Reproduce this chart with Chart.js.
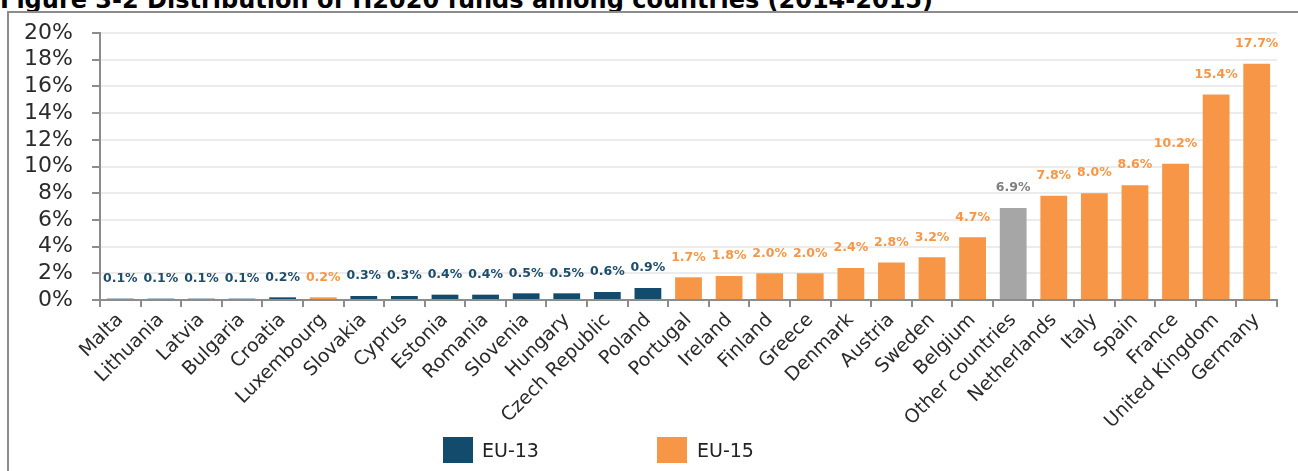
<!DOCTYPE html>
<html>
<head>
<meta charset="utf-8">
<script src="https://cdn.jsdelivr.net/npm/chart.js@4"></script>
<style>
  body { margin: 0; width: 1298px; height: 471px; overflow: hidden; background: #fff; position: relative; font-family: "DejaVu Sans", sans-serif; }
  #title { position: absolute; left: 0; top: -14px; font: bold 24px "DejaVu Sans"; line-height: 28px; white-space: nowrap; color: #000; }
  #frame { position: absolute; left: 7px; top: 11px; width: 1400px; height: 600px; border: 2px solid #8c8c8c; }
  #chart { position: absolute; left: 0; top: 0; }
  .sw { position: absolute; top: 437px; width: 30px; height: 26px; }
  .lt { position: absolute; top: 438px; font-size: 19px; line-height: 24px; color: #222; }
</style>
</head>
<body>
<div id="title">Figure 3-2 Distribution of H2020 funds among countries (2014-2015)</div>
<div id="frame"></div>
<canvas id="chart" width="1298" height="471"></canvas>
<div class="sw" style="left:443px;background:#124b6c"></div>
<div class="lt" style="left:482px">EU-13</div>
<div class="sw" style="left:657px;background:#f79646"></div>
<div class="lt" style="left:697px">EU-15</div>
<script>
const countries = ["Malta", "Lithuania", "Latvia", "Bulgaria", "Croatia", "Luxembourg", "Slovakia", "Cyprus",
  "Estonia", "Romania", "Slovenia", "Hungary", "Czech Republic", "Poland", "Portugal", "Ireland", "Finland",
  "Greece", "Denmark", "Austria", "Sweden", "Belgium", "Other countries", "Netherlands", "Italy", "Spain",
  "France", "United Kingdom", "Germany"];
const shares = [0.1, 0.1, 0.1, 0.1, 0.2, 0.2, 0.3, 0.3, 0.4, 0.4, 0.5, 0.5, 0.6, 0.9, 1.7, 1.8, 2.0,
  2.0, 2.4, 2.8, 3.2, 4.7, 6.9, 7.8, 8.0, 8.6, 10.2, 15.4, 17.7];
const groups = ["EU-13", "EU-13", "EU-13", "EU-13", "EU-13", "EU-15", "EU-13", "EU-13", "EU-13", "EU-13",
  "EU-13", "EU-13", "EU-13", "EU-13", "EU-15", "EU-15", "EU-15", "EU-15", "EU-15", "EU-15", "EU-15",
  "EU-15", "Other", "EU-15", "EU-15", "EU-15", "EU-15", "EU-15", "EU-15"];
const yTicks = [0, 2, 4, 6, 8, 10, 12, 14, 16, 18, 20];

const barColor = { "EU-13": "#124b6c", "EU-15": "#f79646", "Other": "#a6a6a6" };
const labelColor = { "EU-13": "#1d4d6b", "EU-15": "#f79646", "Other": "#7f7f7f" };

// value labels above bars
const valueLabels = {
  id: "valueLabels",
  afterDatasetsDraw(chart) {
    const ctx = chart.ctx;
    const meta = chart.getDatasetMeta(0);
    ctx.save();
    ctx.font = "bold 12.5px 'DejaVu Sans'";
    ctx.textAlign = "center";
    ctx.textBaseline = "middle";
    meta.data.forEach((bar, i) => {
      ctx.fillStyle = labelColor[groups[i]];
      ctx.fillText(shares[i].toFixed(1) + "%", bar.x, bar.y - 20);
    });
    ctx.restore();
  }
};

new Chart(document.getElementById("chart"), {
  type: "bar",
  data: {
    labels: countries,
    datasets: [{
      data: shares,
      backgroundColor: groups.map(g => barColor[g]),
      categoryPercentage: 1,
      barPercentage: 0.66
    }]
  },
  options: {
    responsive: false,
    animation: false,
    layout: { padding: { left: 0, right: 21, top: 33, bottom: 41 } },
    plugins: { legend: { display: false }, tooltip: { enabled: false } },
    scales: {
      x: {
        afterFit(scale) { scale.height = 130; },
        grid: { drawOnChartArea: false, tickLength: 7, color: "#8c8c8c", lineWidth: 2 },
        border: { color: "#8c8c8c", width: 2 },
        ticks: {
          minRotation: 45, maxRotation: 45, autoSkip: false, padding: 2,
          color: "#2b2b2b", font: { family: "DejaVu Sans", size: 19 }
        }
      },
      y: {
        min: 0, max: 20,
        afterFit(scale) { scale.width = 100; },
        afterBuildTicks(scale) { scale.ticks = yTicks.map(v => ({ value: v })); },
        grid: { color: "#ececec", lineWidth: 2, tickColor: "#8c8c8c", tickLength: 8 },
        border: { color: "#8c8c8c", width: 2 },
        ticks: {
          autoSkip: false, padding: 19, color: "#2b2b2b", font: { family: "DejaVu Sans", size: 22 },
          callback: v => v + "%"
        }
      }
    }
  },
  plugins: [valueLabels]
});
</script>
</body>
</html>
